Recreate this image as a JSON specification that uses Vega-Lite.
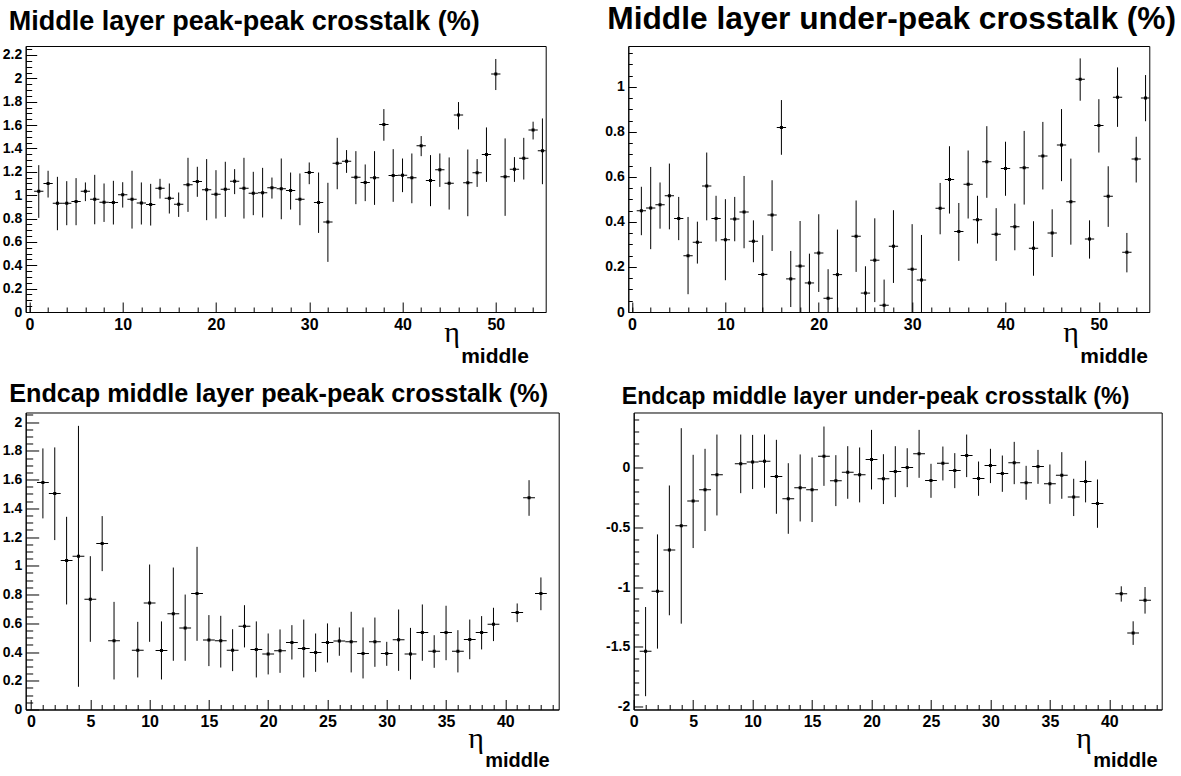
{
  "$schema": "https://vega.github.io/schema/vega-lite/v6.json",
  "padding": {"left": 1.7, "top": 3, "right": 5, "bottom": 5},
  "background": "white",
  "config": {
    "view": {"stroke": "black", "strokeWidth": 1},
    "axis": {"labelFont": "Liberation Sans", "labelFontWeight": "bold", "labelColor": "black", "domainColor": "black", "tickColor": "black", "grid": false, "domainWidth": 1, "tickWidth": 1, "labelFlush": false, "labelOverlap": false, "labelExpr": "'' + datum.value"},
    "title": {"font": "Liberation Sans", "fontWeight": "bold", "anchor": "start", "color": "black", "baseline": "alphabetic", "frame": "group"}
  },
  "datasets": {
    "p1": [
      {"x":1,"y":1.034,"lo":0.806,"hi":1.257},{"x":2,"y":1.1,"lo":0.98,"hi":1.209},{"x":3,"y":0.931,"lo":0.7,"hi":1.157},{"x":4,"y":0.931,"lo":0.743,"hi":1.12},{"x":5,"y":0.946,"lo":0.743,"hi":1.146},{"x":6,"y":1.034,"lo":0.949,"hi":1.109},{"x":7,"y":0.966,"lo":0.751,"hi":1.174},{"x":8,"y":0.94,"lo":0.771,"hi":1.1},{"x":9,"y":0.937,"lo":0.749,"hi":1.123},{"x":10,"y":1.003,"lo":0.894,"hi":1.111},
      {"x":11,"y":0.966,"lo":0.714,"hi":1.209},{"x":12,"y":0.934,"lo":0.749,"hi":1.109},{"x":13,"y":0.92,"lo":0.74,"hi":1.097},{"x":14,"y":1.06,"lo":0.971,"hi":1.14},{"x":15,"y":0.974,"lo":0.843,"hi":1.1},{"x":16,"y":0.923,"lo":0.814,"hi":1.023},{"x":17,"y":1.089,"lo":0.857,"hi":1.32},{"x":18,"y":1.117,"lo":0.986,"hi":1.243},{"x":19,"y":1.046,"lo":0.786,"hi":1.309},{"x":20,"y":1.009,"lo":0.8,"hi":1.214},
      {"x":21,"y":1.051,"lo":0.814,"hi":1.286},{"x":22,"y":1.12,"lo":1.009,"hi":1.223},{"x":23,"y":1.06,"lo":0.8,"hi":1.32},{"x":24,"y":1.017,"lo":0.829,"hi":1.2},{"x":25,"y":1.02,"lo":0.809,"hi":1.234},{"x":26,"y":1.063,"lo":0.971,"hi":1.151},{"x":27,"y":1.054,"lo":0.794,"hi":1.314},{"x":28,"y":1.04,"lo":0.877,"hi":1.194},{"x":29,"y":0.966,"lo":0.743,"hi":1.186},{"x":30,"y":1.194,"lo":1.094,"hi":1.28},
      {"x":31,"y":0.937,"lo":0.677,"hi":1.194},{"x":32,"y":0.771,"lo":0.429,"hi":1.106},{"x":33,"y":1.274,"lo":1.051,"hi":1.491},{"x":34,"y":1.291,"lo":1.191,"hi":1.386},{"x":35,"y":1.154,"lo":0.923,"hi":1.377},{"x":36,"y":1.109,"lo":0.949,"hi":1.263},{"x":37,"y":1.149,"lo":0.917,"hi":1.377},{"x":38,"y":1.606,"lo":1.466,"hi":1.737},{"x":39,"y":1.169,"lo":0.943,"hi":1.394},{"x":40,"y":1.171,"lo":1.026,"hi":1.314},
      {"x":41,"y":1.149,"lo":0.931,"hi":1.357},{"x":42,"y":1.423,"lo":1.334,"hi":1.506},{"x":43,"y":1.126,"lo":0.906,"hi":1.343},{"x":44,"y":1.217,"lo":1.071,"hi":1.357},{"x":45,"y":1.103,"lo":0.877,"hi":1.323},{"x":46,"y":1.686,"lo":1.563,"hi":1.797},{"x":47,"y":1.106,"lo":0.82,"hi":1.391},{"x":48,"y":1.191,"lo":1.071,"hi":1.309},{"x":49,"y":1.349,"lo":1.114,"hi":1.58},{"x":50,"y":2.037,"lo":1.9,"hi":2.166},
      {"x":51,"y":1.157,"lo":0.823,"hi":1.486},{"x":52,"y":1.223,"lo":1.114,"hi":1.326},{"x":53,"y":1.317,"lo":1.134,"hi":1.491},{"x":54,"y":1.557,"lo":1.477,"hi":1.629},{"x":55,"y":1.38,"lo":1.094,"hi":1.657}
    ],
    "p2": [
      {"x":1,"y":0.449,"lo":0.341,"hi":0.556},{"x":2,"y":0.462,"lo":0.279,"hi":0.644},{"x":3,"y":0.476,"lo":0.37,"hi":0.575},{"x":4,"y":0.516,"lo":0.367,"hi":0.659},{"x":5,"y":0.415,"lo":0.319,"hi":0.511},{"x":6,"y":0.25,"lo":0.079,"hi":0.422},{"x":7,"y":0.31,"lo":0.215,"hi":0.401},{"x":8,"y":0.559,"lo":0.407,"hi":0.708},{"x":9,"y":0.415,"lo":0.313,"hi":0.516},{"x":10,"y":0.321,"lo":0.141,"hi":0.501},
      {"x":11,"y":0.413,"lo":0.314,"hi":0.511},{"x":12,"y":0.444,"lo":0.283,"hi":0.604},{"x":13,"y":0.314,"lo":0.221,"hi":0.407},{"x":14,"y":0.167,"lo":-0.01,"hi":0.341},{"x":15,"y":0.431,"lo":0.271,"hi":0.585},{"x":16,"y":0.819,"lo":0.698,"hi":0.941},{"x":17,"y":0.147,"lo":0.022,"hi":0.271},{"x":18,"y":0.204,"lo":-0.01,"hi":0.404},{"x":19,"y":0.129,"lo":-0.01,"hi":0.259},{"x":20,"y":0.262,"lo":0.089,"hi":0.434},
      {"x":21,"y":0.061,"lo":-0.07,"hi":0.19},{"x":22,"y":0.166,"lo":-0.03,"hi":0.366},{"x":24,"y":0.336,"lo":0.178,"hi":0.495},{"x":25,"y":0.084,"lo":-0.04,"hi":0.203},{"x":26,"y":0.23,"lo":0.044,"hi":0.416},{"x":27,"y":0.03,"lo":-0.08,"hi":0.144},{"x":28,"y":0.292,"lo":0.129,"hi":0.452},{"x":30,"y":0.19,"lo":-0.01,"hi":0.39},
      {"x":31,"y":0.142,"lo":-0.06,"hi":0.342},{"x":33,"y":0.461,"lo":0.345,"hi":0.573},{"x":34,"y":0.588,"lo":0.437,"hi":0.736},{"x":35,"y":0.357,"lo":0.227,"hi":0.484},{"x":36,"y":0.567,"lo":0.415,"hi":0.717},{"x":37,"y":0.41,"lo":0.304,"hi":0.516},{"x":38,"y":0.667,"lo":0.507,"hi":0.825},{"x":39,"y":0.345,"lo":0.227,"hi":0.461},{"x":40,"y":0.637,"lo":0.516,"hi":0.756},
      {"x":41,"y":0.378,"lo":0.274,"hi":0.481},{"x":42,"y":0.641,"lo":0.477,"hi":0.804},{"x":43,"y":0.283,"lo":0.161,"hi":0.403},{"x":44,"y":0.693,"lo":0.544,"hi":0.844},{"x":45,"y":0.351,"lo":0.244,"hi":0.456},{"x":46,"y":0.741,"lo":0.581,"hi":0.901},{"x":47,"y":0.49,"lo":0.299,"hi":0.681},{"x":48,"y":1.033,"lo":0.938,"hi":1.126},{"x":49,"y":0.324,"lo":0.237,"hi":0.407},{"x":50,"y":0.828,"lo":0.708,"hi":0.945},
      {"x":51,"y":0.514,"lo":0.378,"hi":0.647},{"x":52,"y":0.954,"lo":0.822,"hi":1.086},{"x":53,"y":0.265,"lo":0.176,"hi":0.351},{"x":54,"y":0.679,"lo":0.575,"hi":0.778},{"x":55,"y":0.95,"lo":0.847,"hi":1.052}
    ],
    "p3": [
      {"x":1,"y":1.58,"lo":1.33,"hi":1.817},{"x":2,"y":1.503,"lo":1.179,"hi":1.824},{"x":3,"y":1.037,"lo":0.731,"hi":1.341},{"x":4,"y":1.067,"lo":0.158,"hi":1.974},{"x":5,"y":0.768,"lo":0.471,"hi":1.067},{"x":6,"y":1.155,"lo":0.963,"hi":1.346},{"x":7,"y":0.478,"lo":0.209,"hi":0.749},{"x":9,"y":0.413,"lo":0.223,"hi":0.61},{"x":10,"y":0.742,"lo":0.471,"hi":1.009},
      {"x":11,"y":0.411,"lo":0.209,"hi":0.613},{"x":12,"y":0.666,"lo":0.339,"hi":0.988},{"x":13,"y":0.568,"lo":0.339,"hi":0.8},{"x":14,"y":0.807,"lo":0.478,"hi":1.132},{"x":15,"y":0.483,"lo":0.302,"hi":0.657},{"x":16,"y":0.478,"lo":0.292,"hi":0.652},{"x":17,"y":0.413,"lo":0.267,"hi":0.559},{"x":18,"y":0.58,"lo":0.432,"hi":0.726},{"x":19,"y":0.418,"lo":0.223,"hi":0.613},{"x":20,"y":0.387,"lo":0.244,"hi":0.529},
      {"x":21,"y":0.408,"lo":0.255,"hi":0.557},{"x":22,"y":0.466,"lo":0.348,"hi":0.587},{"x":23,"y":0.425,"lo":0.223,"hi":0.626},{"x":24,"y":0.397,"lo":0.262,"hi":0.529},{"x":25,"y":0.466,"lo":0.327,"hi":0.599},{"x":26,"y":0.476,"lo":0.374,"hi":0.571},{"x":27,"y":0.471,"lo":0.258,"hi":0.68},{"x":28,"y":0.39,"lo":0.216,"hi":0.571},{"x":29,"y":0.471,"lo":0.297,"hi":0.64},{"x":30,"y":0.39,"lo":0.304,"hi":0.471},
      {"x":31,"y":0.485,"lo":0.269,"hi":0.696},{"x":32,"y":0.387,"lo":0.209,"hi":0.568},{"x":33,"y":0.536,"lo":0.339,"hi":0.731},{"x":34,"y":0.406,"lo":0.29,"hi":0.517},{"x":35,"y":0.536,"lo":0.343,"hi":0.722},{"x":36,"y":0.406,"lo":0.258,"hi":0.552},{"x":37,"y":0.487,"lo":0.35,"hi":0.626},{"x":38,"y":0.536,"lo":0.418,"hi":0.65},{"x":39,"y":0.594,"lo":0.476,"hi":0.708},
      {"x":41,"y":0.675,"lo":0.608,"hi":0.738},{"x":42,"y":1.473,"lo":1.348,"hi":1.596},{"x":43,"y":0.807,"lo":0.691,"hi":0.919}
    ],
    "p4": [
      {"x":1,"y":-1.536,"lo":-1.911,"hi":-1.167},{"x":2,"y":-1.036,"lo":-1.514,"hi":-0.561},{"x":3,"y":-0.692,"lo":-1.236,"hi":-0.153},{"x":4,"y":-0.489,"lo":-1.306,"hi":0.325},{"x":5,"y":-0.283,"lo":-0.675,"hi":0.103},{"x":6,"y":-0.189,"lo":-0.533,"hi":0.153},{"x":7,"y":-0.064,"lo":-0.403,"hi":0.272},{"x":9,"y":0.028,"lo":-0.217,"hi":0.272},{"x":10,"y":0.044,"lo":-0.183,"hi":0.269},
      {"x":11,"y":0.05,"lo":-0.172,"hi":0.272},{"x":12,"y":-0.078,"lo":-0.389,"hi":0.228},{"x":13,"y":-0.264,"lo":-0.556,"hi":0.033},{"x":14,"y":-0.172,"lo":-0.453,"hi":0.106},{"x":15,"y":-0.189,"lo":-0.458,"hi":0.081},{"x":16,"y":0.092,"lo":-0.156,"hi":0.339},{"x":17,"y":-0.114,"lo":-0.325,"hi":0.1},{"x":18,"y":-0.042,"lo":-0.264,"hi":0.175},{"x":19,"y":-0.064,"lo":-0.294,"hi":0.164},{"x":20,"y":0.064,"lo":-0.186,"hi":0.311},
      {"x":21,"y":-0.097,"lo":-0.308,"hi":0.108},{"x":22,"y":-0.036,"lo":-0.25,"hi":0.175},{"x":23,"y":-0.003,"lo":-0.167,"hi":0.158},{"x":24,"y":0.111,"lo":-0.089,"hi":0.311},{"x":25,"y":-0.111,"lo":-0.256,"hi":0.028},{"x":26,"y":0.033,"lo":-0.111,"hi":0.172},{"x":27,"y":-0.028,"lo":-0.175,"hi":0.117},{"x":28,"y":0.097,"lo":-0.083,"hi":0.272},{"x":29,"y":-0.094,"lo":-0.239,"hi":0.047},{"x":30,"y":0.014,"lo":-0.133,"hi":0.153},
      {"x":31,"y":-0.053,"lo":-0.206,"hi":0.097},{"x":32,"y":0.036,"lo":-0.142,"hi":0.211},{"x":33,"y":-0.131,"lo":-0.272,"hi":0.011},{"x":34,"y":0.006,"lo":-0.139,"hi":0.144},{"x":35,"y":-0.139,"lo":-0.306,"hi":0.022},{"x":36,"y":-0.067,"lo":-0.264,"hi":0.125},{"x":37,"y":-0.25,"lo":-0.408,"hi":-0.097},{"x":38,"y":-0.119,"lo":-0.294,"hi":0.053},{"x":39,"y":-0.303,"lo":-0.506,"hi":-0.103},
      {"x":41,"y":-1.056,"lo":-1.122,"hi":-0.994},{"x":42,"y":-1.383,"lo":-1.483,"hi":-1.286},{"x":43,"y":-1.111,"lo":-1.222,"hi":-1.0}
    ]
  },
  "bounds": "flush",
  "spacing": 366.5,
  "vconcat": [
    {
      "bounds": "flush",
      "spacing": 82.6,
      "hconcat": [
        {
          "width": 520, "height": 266,
          "title": {"text": "Middle layer peak-peak crosstalk (%)", "fontSize": 27, "dx": -17, "offset": 10},
          "data": {"name": "p1"},
          "resolve": {"axis": {"x": "independent", "y": "independent"}},
          "layer": [
            {"mark": {"type": "rule", "clip": true, "color": "black", "strokeWidth": 1},
             "encoding": {
               "x": {"field": "x", "type": "quantitative", "scale": {"domain": [-0.4, 55.35], "nice": false, "zero": false},
                     "axis": {"orient": "bottom", "values": [0,10,20,30,40,50], "tickSize": -10, "labelPadding": 14, "labelFontSize": 16,
                              "title": "η", "titleFont": "Liberation Serif", "titleFontSize": 30, "titleFontWeight": "normal", "titleColor": "black",
                              "titleX": 418, "titleY": 29, "titleAlign": "left", "titleBaseline": "alphabetic", "titleAnchor": null}},
               "y": {"field": "lo", "type": "quantitative", "scale": {"domain": [0, 2.277], "nice": false, "zero": false},
                     "axis": {"orient": "left", "values": [0,0.2,0.4,0.6,0.8,1,1.2,1.4,1.6,1.8,2,2.2], "tickSize": -11, "labelPadding": 15, "labelFontSize": 14, "title": null}},
               "y2": {"field": "hi"}
             }},
            {"mark": {"type": "tick", "orient": "horizontal", "size": 9.3, "thickness": 1, "color": "black", "clip": true, "opacity": 1},
             "encoding": {
               "x": {"field": "x", "type": "quantitative", "scale": {"domain": [-0.4, 55.35], "nice": false, "zero": false},
                     "axis": {"orient": "bottom", "values": [0,2,4,6,8,12,14,16,18,22,24,26,28,32,34,36,38,42,44,46,48,52,54], "tickSize": -5, "labels": false, "domain": false,
                              "title": "middle", "titleFont": "Liberation Sans", "titleFontSize": 21, "titleFontWeight": "bold", "titleColor": "black",
                              "titleX": 435, "titleY": 50, "titleAlign": "left", "titleBaseline": "alphabetic", "titleAnchor": null}},
               "y": {"field": "y", "type": "quantitative", "scale": {"domain": [0, 2.277], "nice": false, "zero": false},
                     "axis": {"orient": "left", "values": [0.05,0.1,0.15,0.25,0.3,0.35,0.45,0.5,0.55,0.65,0.7,0.75,0.85,0.9,0.95,1.05,1.1,1.15,1.25,1.3,1.35,1.45,1.5,1.55,1.65,1.7,1.75,1.85,1.9,1.95,2.05,2.1,2.15,2.25], "tickSize": -6, "labels": false, "domain": false, "title": null}}
             }},
            {"mark": {"type": "point", "shape": "square", "size": 9, "filled": true, "color": "black", "opacity": 1, "clip": true},
             "encoding": {
               "x": {"field": "x", "type": "quantitative", "scale": {"domain": [-0.4, 55.35], "nice": false, "zero": false}, "axis": null},
               "y": {"field": "y", "type": "quantitative", "scale": {"domain": [0, 2.277], "nice": false, "zero": false}, "axis": null}
             }}
          ]
        },
        {
          "width": 521, "height": 266,
          "title": {"text": "Middle layer under-peak crosstalk (%)", "fontSize": 31.7, "dx": -21, "offset": 10},
          "data": {"name": "p2"},
          "resolve": {"axis": {"x": "independent", "y": "independent"}},
          "layer": [
            {"mark": {"type": "rule", "clip": true, "color": "black", "strokeWidth": 1},
             "encoding": {
               "x": {"field": "x", "type": "quantitative", "scale": {"domain": [-0.4, 55.4], "nice": false, "zero": false},
                     "axis": {"orient": "bottom", "values": [0,10,20,30,40,50], "tickSize": -10, "labelPadding": 14, "labelFontSize": 16,
                              "title": "η", "titleFont": "Liberation Serif", "titleFontSize": 30, "titleFontWeight": "normal", "titleColor": "black",
                              "titleX": 434.5, "titleY": 29, "titleAlign": "left", "titleBaseline": "alphabetic", "titleAnchor": null}},
               "y": {"field": "lo", "type": "quantitative", "scale": {"domain": [0, 1.181], "nice": false, "zero": false},
                     "axis": {"orient": "left", "values": [0,0.2,0.4,0.6,0.8,1], "tickSize": -8, "labelPadding": 12, "labelFontSize": 14, "title": null}},
               "y2": {"field": "hi"}
             }},
            {"mark": {"type": "tick", "orient": "horizontal", "size": 9.3, "thickness": 1, "color": "black", "clip": true, "opacity": 1},
             "encoding": {
               "x": {"field": "x", "type": "quantitative", "scale": {"domain": [-0.4, 55.4], "nice": false, "zero": false},
                     "axis": {"orient": "bottom", "values": [0,2,4,6,8,12,14,16,18,22,24,26,28,32,34,36,38,42,44,46,48,52,54], "tickSize": -5, "labels": false, "domain": false,
                              "title": "middle", "titleFont": "Liberation Sans", "titleFontSize": 21, "titleFontWeight": "bold", "titleColor": "black",
                              "titleX": 451.5, "titleY": 50, "titleAlign": "left", "titleBaseline": "alphabetic", "titleAnchor": null}},
               "y": {"field": "y", "type": "quantitative", "scale": {"domain": [0, 1.181], "nice": false, "zero": false},
                     "axis": {"orient": "left", "values": [0.05,0.1,0.15,0.25,0.3,0.35,0.45,0.5,0.55,0.65,0.7,0.75,0.85,0.9,0.95,1.05,1.1,1.15], "tickSize": -4, "labels": false, "domain": false, "title": null}}
             }},
            {"mark": {"type": "point", "shape": "square", "size": 9, "filled": true, "color": "black", "opacity": 1, "clip": true},
             "encoding": {
               "x": {"field": "x", "type": "quantitative", "scale": {"domain": [-0.4, 55.4], "nice": false, "zero": false}, "axis": null},
               "y": {"field": "y", "type": "quantitative", "scale": {"domain": [0, 1.181], "nice": false, "zero": false}, "axis": null}
             }}
          ]
        }
      ]
    },
    {
      "bounds": "flush",
      "spacing": 75,
      "hconcat": [
        {
          "width": 533, "height": 297,
          "title": {"text": "Endcap middle layer peak-peak crosstalk (%)", "fontSize": 25.2, "dx": -16.5, "offset": 5},
          "data": {"name": "p3"},
          "resolve": {"axis": {"x": "independent", "y": "independent"}},
          "layer": [
            {"mark": {"type": "rule", "clip": true, "color": "black", "strokeWidth": 1},
             "encoding": {
               "x": {"field": "x", "type": "quantitative", "scale": {"domain": [-0.45, 44.5], "nice": false, "zero": false},
                     "axis": {"orient": "bottom", "values": [0,5,10,15,20,25,30,35,40], "tickSize": -10, "labelPadding": 14, "labelFontSize": 16,
                              "title": "η", "titleFont": "Liberation Serif", "titleFontSize": 30, "titleFontWeight": "normal", "titleColor": "black",
                              "titleX": 442, "titleY": 38, "titleAlign": "left", "titleBaseline": "alphabetic", "titleAnchor": null}},
               "y": {"field": "lo", "type": "quantitative", "scale": {"domain": [0, 2.067], "nice": false, "zero": false},
                     "axis": {"orient": "left", "values": [0,0.2,0.4,0.6,0.8,1,1.2,1.4,1.6,1.8,2], "tickSize": -13, "labelPadding": 17, "labelFontSize": 14, "title": null}},
               "y2": {"field": "hi"}
             }},
            {"mark": {"type": "tick", "orient": "horizontal", "size": 11.8, "thickness": 1, "color": "black", "clip": true, "opacity": 1},
             "encoding": {
               "x": {"field": "x", "type": "quantitative", "scale": {"domain": [-0.45, 44.5], "nice": false, "zero": false},
                     "axis": {"orient": "bottom", "values": [1,2,3,4,6,7,8,9,11,12,13,14,16,17,18,19,21,22,23,24,26,27,28,29,31,32,33,34,36,37,38,39,41,42,43,44], "tickSize": -5, "labels": false, "domain": false,
                              "title": "middle", "titleFont": "Liberation Sans", "titleFontSize": 20, "titleFontWeight": "bold", "titleColor": "black",
                              "titleX": 459, "titleY": 57, "titleAlign": "left", "titleBaseline": "alphabetic", "titleAnchor": null}},
               "y": {"field": "y", "type": "quantitative", "scale": {"domain": [0, 2.067], "nice": false, "zero": false},
                     "axis": {"orient": "left", "values": [0.05,0.1,0.15,0.25,0.3,0.35,0.45,0.5,0.55,0.65,0.7,0.75,0.85,0.9,0.95,1.05,1.1,1.15,1.25,1.3,1.35,1.45,1.5,1.55,1.65,1.7,1.75,1.85,1.9,1.95,2.05], "tickSize": -7, "labels": false, "domain": false, "title": null}}
             }},
            {"mark": {"type": "point", "shape": "square", "size": 9, "filled": true, "color": "black", "opacity": 1, "clip": true},
             "encoding": {
               "x": {"field": "x", "type": "quantitative", "scale": {"domain": [-0.45, 44.5], "nice": false, "zero": false}, "axis": null},
               "y": {"field": "y", "type": "quantitative", "scale": {"domain": [0, 2.067], "nice": false, "zero": false}, "axis": null}
             }}
          ]
        },
        {
          "width": 528, "height": 297,
          "title": {"text": "Endcap middle layer under-peak crosstalk (%)", "fontSize": 23.2, "dx": -12, "offset": 3},
          "data": {"name": "p4"},
          "resolve": {"axis": {"x": "independent", "y": "independent"}},
          "layer": [
            {"mark": {"type": "rule", "clip": true, "color": "black", "strokeWidth": 1},
             "encoding": {
               "x": {"field": "x", "type": "quantitative", "scale": {"domain": [0, 44.4], "nice": false, "zero": false},
                     "axis": {"orient": "bottom", "values": [0,5,10,15,20,25,30,35,40], "tickSize": -10, "labelPadding": 14, "labelFontSize": 16,
                              "title": "η", "titleFont": "Liberation Serif", "titleFontSize": 30, "titleFontWeight": "normal", "titleColor": "black",
                              "titleX": 442, "titleY": 38, "titleAlign": "left", "titleBaseline": "alphabetic", "titleAnchor": null}},
               "y": {"field": "lo", "type": "quantitative", "scale": {"domain": [-2.022, 0.456], "nice": false, "zero": false},
                     "axis": {"orient": "left", "values": [-2,-1.5,-1,-0.5,0], "tickSize": -9, "labelPadding": 13, "labelFontSize": 14, "title": null}},
               "y2": {"field": "hi"}
             }},
            {"mark": {"type": "tick", "orient": "horizontal", "size": 11.8, "thickness": 1, "color": "black", "clip": true, "opacity": 1},
             "encoding": {
               "x": {"field": "x", "type": "quantitative", "scale": {"domain": [0, 44.4], "nice": false, "zero": false},
                     "axis": {"orient": "bottom", "values": [1,2,3,4,6,7,8,9,11,12,13,14,16,17,18,19,21,22,23,24,26,27,28,29,31,32,33,34,36,37,38,39,41,42,43,44], "tickSize": -5, "labels": false, "domain": false,
                              "title": "middle", "titleFont": "Liberation Sans", "titleFontSize": 20, "titleFontWeight": "bold", "titleColor": "black",
                              "titleX": 459, "titleY": 57, "titleAlign": "left", "titleBaseline": "alphabetic", "titleAnchor": null}},
               "y": {"field": "y", "type": "quantitative", "scale": {"domain": [-2.022, 0.456], "nice": false, "zero": false},
                     "axis": {"orient": "left", "values": [-1.9,-1.8,-1.7,-1.6,-1.4,-1.3,-1.2,-1.1,-0.9,-0.8,-0.7,-0.6,-0.4,-0.3,-0.2,-0.1,0.1,0.2,0.3,0.4], "tickSize": -5, "labels": false, "domain": false, "title": null}}
             }},
            {"mark": {"type": "point", "shape": "square", "size": 9, "filled": true, "color": "black", "opacity": 1, "clip": true},
             "encoding": {
               "x": {"field": "x", "type": "quantitative", "scale": {"domain": [0, 44.4], "nice": false, "zero": false}, "axis": null},
               "y": {"field": "y", "type": "quantitative", "scale": {"domain": [-2.022, 0.456], "nice": false, "zero": false}, "axis": null}
             }}
          ]
        }
      ]
    }
  ]
}
